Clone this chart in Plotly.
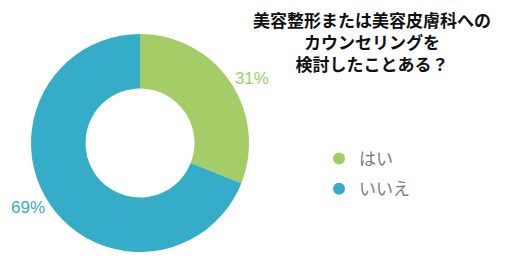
import plotly.graph_objects as go

labels = ["はい", "いいえ"]
values = [31, 69]
colors = ["#a4cd68", "#35acc8"]
title_lines = ["美容整形または美容皮膚科への", "カウンセリングを", "検討したことある？"]

W, H = 507, 277
fig = go.Figure()
fig.add_trace(go.Pie(
    labels=labels, values=values, hole=0.5, sort=False, direction="clockwise",
    rotation=0, marker=dict(colors=colors, line=dict(width=0)),
    textinfo="percent", texttemplate="%{percent:.0%}", textposition="outside",
    outsidetextfont=dict(color=colors, size=17, family="Liberation Sans"),
    showlegend=False, hoverinfo="skip",
    domain=dict(x=[31 / W, 249 / W], y=[(H - 252) / H, (H - 34) / H]),
))
for lab, col in zip(labels, colors):
    fig.add_trace(go.Scatter(
        x=[None], y=[None], mode="markers", name=lab, legendgroup=lab,
        marker=dict(symbol="circle", size=15, color=col),
    ))
fig.update_layout(
    width=W, height=H, margin=dict(l=0, r=0, t=0, b=0),
    paper_bgcolor="white", plot_bgcolor="white",
    xaxis=dict(visible=False), yaxis=dict(visible=False),
    legend=dict(x=319 / W, y=(H - 141) / H, xanchor="left", yanchor="top",
                font=dict(size=17, color="#7a7a7a", family="Noto Sans CJK JP"),
                tracegroupgap=5, itemsizing="constant"),
    annotations=[dict(
        text="<b>" + "<br>".join(title_lines) + "</b>", x=372 / W, y=(H - 41) / H,
        xref="paper", yref="paper", xanchor="center", yanchor="middle",
        showarrow=False, align="center",
        font=dict(size=17, color="#111111", family="Noto Sans CJK JP"),
    )],
)
fig.write_html("out.html")
